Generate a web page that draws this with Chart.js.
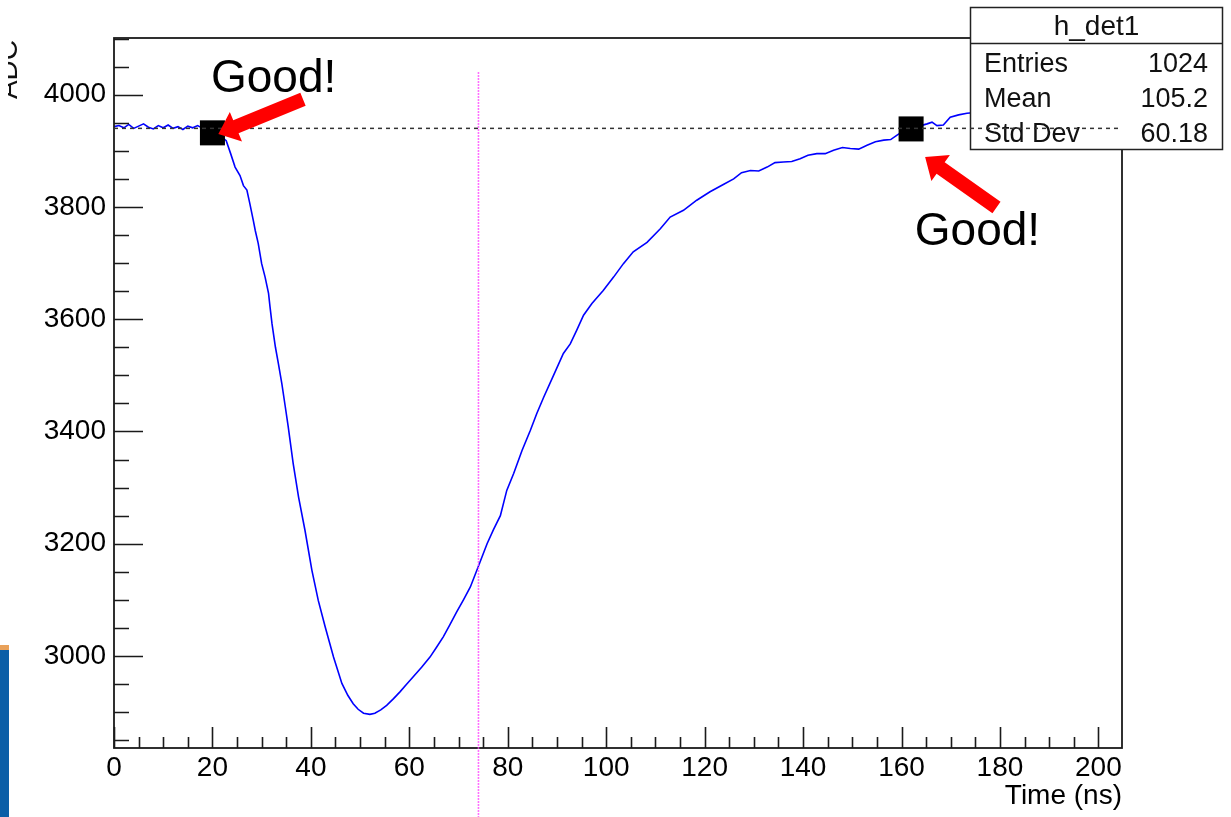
<!DOCTYPE html>
<html>
<head>
<meta charset="utf-8">
<title>h_det1</title>
<script src="https://cdn.jsdelivr.net/npm/chart.js@4/dist/chart.umd.min.js"></script>
<style>
  html, body { margin: 0; padding: 0; background: #fff; }
  canvas { display: block; }
</style>
</head>
<body>
<canvas id="waveChart" width="1231" height="817"></canvas>
<script>
// waveform (time in ns, ADC counts)
const timeNs = [
  0, 1, 2, 3, 4, 5, 6, 7, 8, 9, 10, 11, 12, 13, 14, 15, 16, 17, 18, 19,
  20, 21, 22, 22.8, 23.7, 24.6, 25.6, 26.3, 27.0, 27.6, 28.3, 28.7, 29.3, 30.0,
  30.7, 31.4, 31.7, 32.1, 32.8, 33.4, 34.1, 34.8, 35.4, 36.4, 37.5, 38.8, 40.2,
  41.5, 42.9, 44.6, 46.3, 47.5, 48.6, 49.6, 50.7, 52.0, 53.0, 54.2, 55.4, 56.8,
  58.1, 59.4, 60.8, 62.5, 64.2, 65.5, 66.9, 68.2, 69.6, 71.0, 72.4, 74.0, 75.8,
  77.1, 78.5, 79.8, 81.2, 82.9, 84.6, 85.9, 87.3, 89.3, 91.3, 92.7, 94.0, 95.4,
  97.1, 99.4, 101.5, 103.5, 105.5, 108.3, 111.0, 113.0, 115.7, 118.4, 121.1,
  123.8, 125.9, 127.5, 129.3, 131.0, 132.7, 134.3, 136.0, 137.7, 139.4, 141.0,
  142.8, 144.5, 146.2, 148.0, 149.6, 151.3, 153.0, 154.7, 156.4, 157.8, 159.1,
  160.5, 162.0, 163.6, 165.2, 166.2, 167.2, 168.5, 169.9, 171.6, 173.3, 180,
  190, 200, 204.8
];
const adcCounts = [
  3943, 3945, 3941, 3947, 3940, 3944, 3948, 3942, 3939, 3945, 3941, 3946, 3940,
  3943, 3938, 3944, 3941, 3945, 3940, 3938,
  3935, 3930, 3924, 3918, 3895, 3871, 3856, 3838, 3830, 3806, 3776, 3758, 3735,
  3699, 3675, 3646, 3622, 3592, 3550, 3521, 3485, 3444, 3408, 3343, 3283, 3224,
  3153, 3099, 3052, 2998, 2951, 2930, 2915, 2905, 2898, 2896, 2898, 2904, 2912,
  2924, 2936, 2949, 2963, 2980, 2998, 3015, 3034, 3055, 3078, 3100, 3123, 3159,
  3200, 3225, 3250, 3295, 3325, 3366, 3402, 3432, 3461, 3500, 3539, 3556, 3580,
  3607, 3628, 3651, 3675, 3699, 3720, 3737, 3761, 3782, 3794, 3812, 3827, 3840,
  3850, 3861, 3865, 3864, 3871, 3879, 3880, 3881, 3886, 3892, 3895, 3895, 3901,
  3906, 3904, 3903, 3910, 3916, 3919, 3920, 3928, 3936, 3939, 3944, 3948, 3951,
  3945, 3946, 3960, 3964, 3967, 3972, 3978, 3982, 3984
];

// the two black squares
const markerTimes = [20.0, 161.95];
const markerAdc = [3932, 3939];

// reference lines
const baselineAdc = 3940;
const cursorTime = 74.05;

const xTicks = [0, 20, 40, 60, 80, 100, 120, 140, 160, 180, 200];
const yTicks = [3000, 3200, 3400, 3600, 3800, 4000];

const statsTitle = "h_det1";
const statsLabels = ["Entries", "Mean", "Std Dev"];
const statsValues = ["1024", "105.2", "60.18"];

// arrow tip / tail and text anchor, in data units
const arrows = [
  {tip: [21.2, 3930], tail: [38.4, 3992]},
  {tip: [164.8, 3889], tail: [179.3, 3799]}
];
const notes = [
  {text: "Good!", at: [19.7, 4004]},
  {text: "Good!", at: [162.7, 3732]}
];

const FONT = "'Liberation Sans', Arial, Helvetica, sans-serif";

function drawArrow(ctx, tx, ty, bx, by) {
  const dx = bx - tx, dy = by - ty;
  const len = Math.hypot(dx, dy);
  const ux = dx / len, uy = dy / len;
  const nx = -uy, ny = ux;
  const headLen = 19, headW = 16, shaftW = 7;
  const hx = tx + ux * headLen, hy = ty + uy * headLen;
  ctx.beginPath();
  ctx.moveTo(tx, ty);
  ctx.lineTo(hx + nx * headW, hy + ny * headW);
  ctx.lineTo(hx + nx * shaftW, hy + ny * shaftW);
  ctx.lineTo(bx + nx * shaftW, by + ny * shaftW);
  ctx.lineTo(bx - nx * shaftW, by - ny * shaftW);
  ctx.lineTo(hx - nx * shaftW, hy - ny * shaftW);
  ctx.lineTo(hx - nx * headW, hy - ny * headW);
  ctx.closePath();
  ctx.fill();
}

const rootStyle = {
  id: "rootStyle",
  afterDatasetsDraw(chart) {
    const {ctx, chartArea: a, scales: {x, y}} = chart;
    ctx.save();
    ctx.strokeStyle = "#1a1a1a";
    ctx.lineWidth = 1.8;
    ctx.strokeRect(a.left, a.top, a.right - a.left, a.bottom - a.top);

    // inward ticks, ROOT style
    ctx.lineWidth = 1.6;
    ctx.beginPath();
    for (let t = 0; t <= x.max; t += 5) {
      const px = Math.round(x.getPixelForValue(t)) + 0.5;
      const len = t % 20 === 0 ? 21 : 11;
      ctx.moveTo(px, a.bottom);
      ctx.lineTo(px, a.bottom - len);
    }
    for (let v = 2850; v <= y.max; v += 50) {
      const py = Math.round(y.getPixelForValue(v)) + 0.5;
      const len = v % 200 === 0 ? 29 : 15;
      ctx.moveTo(a.left, py);
      ctx.lineTo(a.left + len, py);
    }
    ctx.stroke();
    ctx.restore();
  },
  afterDraw(chart) {
    const {ctx, scales: {x, y}} = chart;
    ctx.save();

    // stats box
    ctx.fillStyle = "#fff";
    ctx.fillRect(970, 7, 253, 143);
    ctx.strokeStyle = "#222";
    ctx.lineWidth = 1.5;
    ctx.strokeRect(970.5, 7.5, 252, 142);
    ctx.beginPath();
    ctx.moveTo(970, 43.5);
    ctx.lineTo(1223, 43.5);
    ctx.stroke();
    ctx.fillStyle = "#111";
    ctx.font = "28px " + FONT;
    ctx.textAlign = "center";
    ctx.textBaseline = "alphabetic";
    ctx.fillText(statsTitle, 1096.5, 35);
    ctx.font = "27px " + FONT;
    const rowY = [72, 107, 142];
    statsLabels.forEach((lab, i) => {
      ctx.textAlign = "left";
      ctx.fillText(lab, 984, rowY[i]);
      ctx.textAlign = "right";
      ctx.fillText(statsValues[i], 1208, rowY[i]);
    });

    // dashed baseline
    ctx.strokeStyle = "#333";
    ctx.lineWidth = 1.5;
    ctx.setLineDash([4, 4]);
    const by = y.getPixelForValue(baselineAdc);
    ctx.beginPath();
    ctx.moveTo(x.getPixelForValue(0), by);
    ctx.lineTo(x.getPixelForValue(204.1), by);
    ctx.stroke();

    // magenta dotted cursor
    ctx.strokeStyle = "#ff40ff";
    ctx.lineWidth = 1.6;
    ctx.setLineDash([1.5, 1.5]);
    const cx = x.getPixelForValue(cursorTime);
    ctx.beginPath();
    ctx.moveTo(cx, y.getPixelForValue(4040));
    ctx.lineTo(cx, chart.height);
    ctx.stroke();
    ctx.setLineDash([]);

    // red arrows
    ctx.fillStyle = "#ff0000";
    arrows.forEach(ar => {
      drawArrow(ctx,
        x.getPixelForValue(ar.tip[0]), y.getPixelForValue(ar.tip[1]),
        x.getPixelForValue(ar.tail[0]), y.getPixelForValue(ar.tail[1]));
    });

    // annotations
    ctx.fillStyle = "#000";
    ctx.font = "46px " + FONT;
    ctx.textAlign = "left";
    ctx.textBaseline = "alphabetic";
    notes.forEach(n => {
      ctx.fillText(n.text, x.getPixelForValue(n.at[0]), y.getPixelForValue(n.at[1]));
    });

    // y title, cropped at the left edge like the screenshot
    ctx.save();
    ctx.translate(17, 40);
    ctx.rotate(-Math.PI / 2);
    ctx.font = "28px " + FONT;
    ctx.fillStyle = "#111";
    ctx.textAlign = "right";
    ctx.fillText("ADC", 0, 0);
    ctx.restore();
    ctx.fillStyle = "#fff";
    ctx.fillRect(0, 30, 8, 75);

    // slide edge in the corner
    ctx.fillStyle = "#e9a15a";
    ctx.fillRect(0, 645, 9, 5);
    ctx.fillStyle = "#0b5ea7";
    ctx.fillRect(0, 650, 9, 167);

    ctx.restore();
  }
};

const ctx = document.getElementById("waveChart").getContext("2d");
const chart = new Chart(ctx, {
  type: "line",
  data: {
    datasets: [
      {
        type: "scatter",
        data: markerTimes.map((t, i) => ({x: t, y: markerAdc[i]})),
        pointStyle: "rect",
        pointRadius: 17.7,
        backgroundColor: "#000",
        borderWidth: 0,
        order: 0
      },
      {
        data: timeNs.map((t, i) => ({x: t, y: adcCounts[i]})),
        borderColor: "#0000ff",
        borderWidth: 1.6,
        pointRadius: 0,
        tension: 0,
        fill: false,
        order: 1
      }
    ]
  },
  options: {
    responsive: false,
    animation: false,
    devicePixelRatio: 1,
    layout: {padding: {left: 0, right: 109, top: 38, bottom: 0}},
    scales: {
      x: {
        type: "linear",
        min: 0,
        max: 204.8,
        afterFit: s => { s.height = 69; },
        afterBuildTicks: s => { s.ticks = xTicks.map(v => ({value: v})); },
        grid: {display: false, drawTicks: false},
        border: {display: false},
        ticks: {color: "#000", padding: 3, maxRotation: 0, autoSkip: false,
                callback: v => String(v),
                font: {family: FONT, size: 28}},
        title: {display: true, text: "Time (ns)", align: "end", color: "#000",
                padding: {top: 0, bottom: 4}, font: {family: FONT, size: 28}}
      },
      y: {
        min: 2836,
        max: 4101,
        afterFit: s => { s.width = 114; },
        afterBuildTicks: s => { s.ticks = yTicks.map(v => ({value: v})); },
        grid: {display: false, drawTicks: false},
        border: {display: false},
        ticks: {color: "#000", padding: 8, autoSkip: false,
                callback: v => String(v),
                font: {family: FONT, size: 28}}
      }
    },
    plugins: {
      legend: {display: false},
      tooltip: {enabled: false}
    }
  },
  plugins: [rootStyle]
});
</script>
</body>
</html>
